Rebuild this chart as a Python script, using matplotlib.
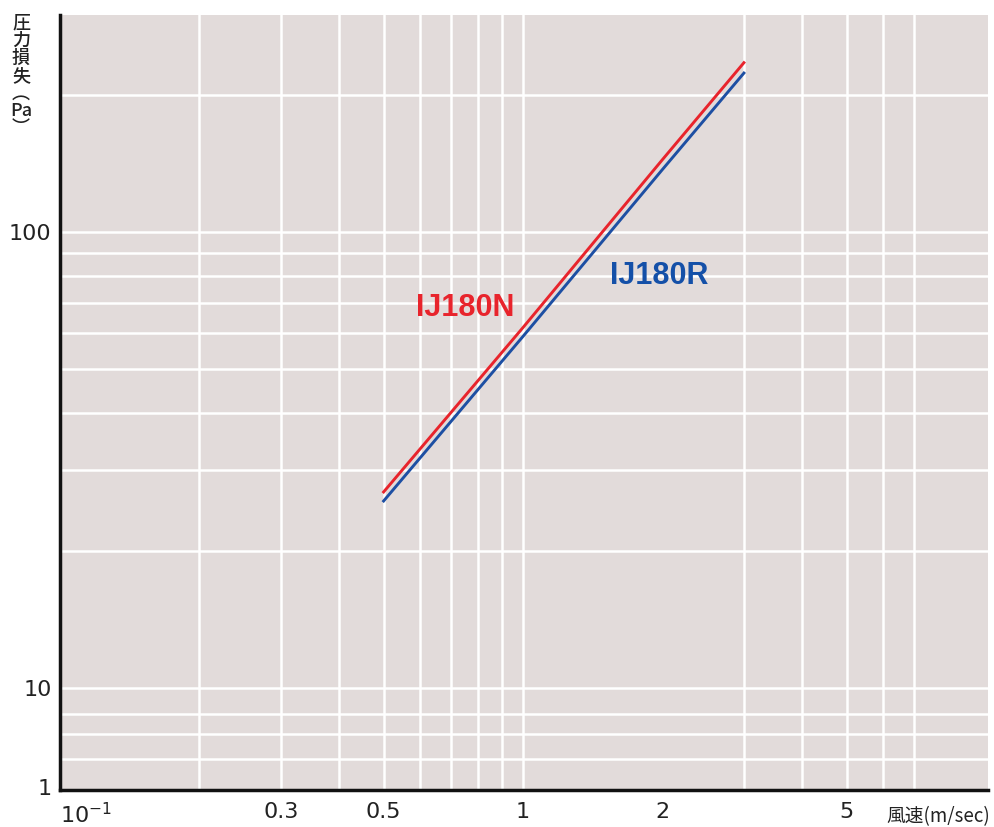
import numpy as np
import matplotlib
matplotlib.use("Agg")
import matplotlib.pyplot as plt

plt.rcParams['font.family'] = ['Noto Sans CJK JP', 'DejaVu Sans']

# data (wind speed m/sec, pressure loss Pa)
speed = [0.5, 1, 2, 3]
loss_N = [26.9, 61.7, 144, 235]
loss_R = [25.7, 59.0, 137, 223]

xticks = [0.1, 0.3, 0.5, 1, 2, 5]
xticklabels = ['$\\mathregular{10^{-1}}$', '0.3', '0.5', '1', '2', '5']
yticks = [1, 10, 100]
yticklabels = ['1', '10', '100']

# grid lines as printed on the original sheet
xgrid = [0.2, 0.3, 0.4, 0.5, 0.6, 0.7, 0.8, 0.9, 1, 3, 4, 5, 6, 7]
ygrid = [1.9, 3.4, 5.5, 10, 20, 30, 40, 50, 60, 70, 80, 90, 100, 200]

# y axis: log above 10, squeezed decade between 1 and 10
k = 0.217


def fwd(y):
    ly = np.log10(np.clip(y, 1e-9, None))
    return np.where(ly >= 1, ly, 1 + (ly - 1) * k)


def inv(v):
    v = np.asarray(v, dtype=float)
    return np.where(v >= 1, 10 ** v, 10 ** (1 + (v - 1) / k))


fig = plt.figure(figsize=(9.94, 8.27), dpi=100)
ax = fig.add_axes([60 / 994, 37 / 827, 928 / 994, 775 / 827])
ax.set_facecolor('#e2dbda')

ax.set_xscale('log')
ax.set_yscale('function', functions=(fwd, inv))
ax.set_xlim(0.1, 10.1)
ax.set_ylim(0.93, 299)

for gx in xgrid:
    ax.axvline(gx, color='white', lw=1.8, zorder=1)
for gy in ygrid:
    ax.axhline(gy, color='white', lw=1.8, zorder=1)

ax.plot(speed, loss_N, color='#e8242c', lw=2.1, zorder=3)
ax.plot(speed, loss_R, color='#1d4fa3', lw=2.1, zorder=3)

ax.text(0.75, 68, 'IJ180N', color='#e8242c', fontsize=22, fontweight='bold',
        family=['Liberation Sans', 'DejaVu Sans'], ha='center', va='center', zorder=4)
ax.text(1.97, 80, 'IJ180R', color='#1450a8', fontsize=22, fontweight='bold',
        family=['Liberation Sans', 'DejaVu Sans'], ha='center', va='center', zorder=4)

ax.set_xticks(xticks)
ax.set_xticklabels(xticklabels)
ax.xaxis.set_minor_locator(matplotlib.ticker.NullLocator())
ax.set_yticks(yticks)
ax.set_yticklabels(yticklabels)
ax.yaxis.set_minor_locator(matplotlib.ticker.NullLocator())
ax.tick_params(axis='both', length=0, labelsize=16, colors='#222222')
ax.tick_params(axis='x', pad=9)
ax.tick_params(axis='y', pad=6)
for lab in ax.get_xticklabels() + ax.get_yticklabels():
    lab.set_family(['DejaVu Sans'])
ax.get_xticklabels()[0].set_horizontalalignment('left')

for side in ['top', 'right']:
    ax.spines[side].set_visible(False)
for side in ['left', 'bottom']:
    ax.spines[side].set_linewidth(2.5)
    ax.spines[side].set_color('#111111')

fig.text(21 / 994, 1 - 14 / 827, '圧\n力\n損\n失\n︵\nPa\n︶', fontsize=13,
         ha='center', va='top', linespacing=0.97, color='#222222', fontweight='medium')
fig.text(990 / 994, 1 - 817 / 827, '風速(m/sec)', fontsize=13.5,
         ha='right', va='center', color='#222222')

fig.savefig('out.png', dpi=100)
